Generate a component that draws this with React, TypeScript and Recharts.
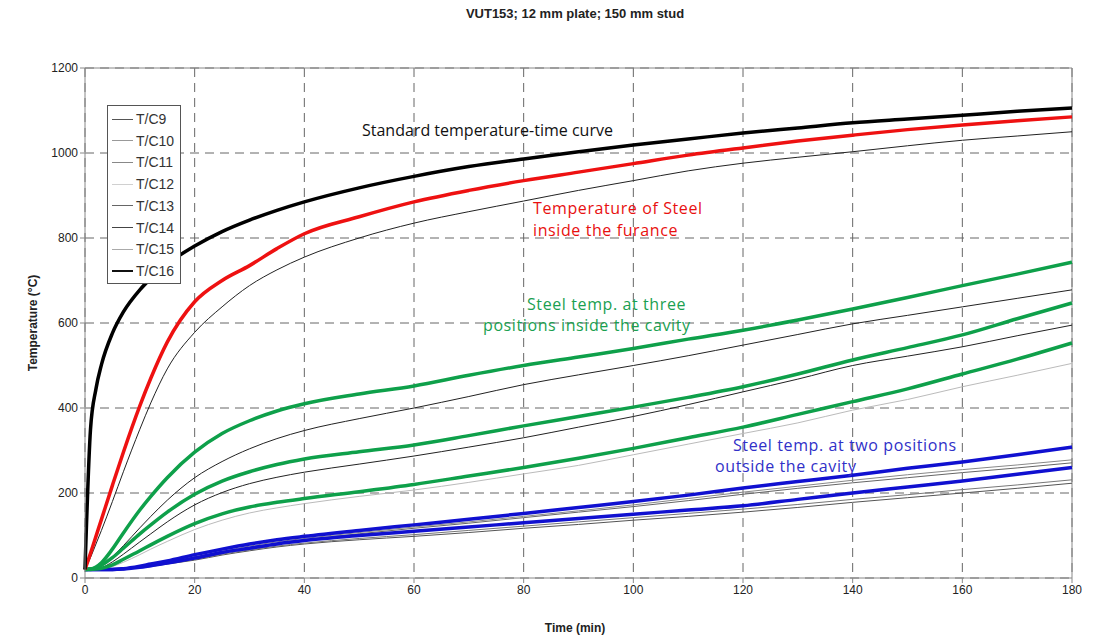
import React from "react";
import {
  CartesianGrid,
  Label,
  Line,
  LineChart,
  ReferenceLine,
  XAxis,
  YAxis,
} from "recharts";

// time (min)
const TIMES = [0, 1, 2, 3, 5, 7, 10, 12, 15, 20, 25, 30, 35, 40, 50, 60, 70, 80, 90, 100, 110, 120, 130, 140, 150, 160, 170, 180];

// temperatures (°C)
const STANDARD = [20, 349, 445, 502, 576, 626, 678, 705, 739, 781, 815, 842, 865, 885, 918, 945, 968, 986, 1003, 1019, 1033, 1047, 1059, 1071, 1080, 1089, 1098, 1106];
const FURNACE_STEEL = [20, 58, 98, 138, 218, 296, 405, 470, 555, 650, 700, 735, 775, 810, 850, 885, 912, 935, 955, 975, 995, 1012, 1028, 1042, 1055, 1066, 1076, 1085];
const THIN_FURNACE = [20, 48, 80, 112, 180, 250, 350, 412, 492, 578, 638, 688, 725, 755, 800, 835, 862, 887, 912, 935, 958, 976, 990, 1003, 1017, 1030, 1040, 1050];
const CAVITY_1 = [20, 21, 26, 36, 68, 106, 160, 192, 236, 296, 340, 370, 393, 410, 433, 452, 477, 500, 520, 540, 562, 583, 607, 633, 660, 688, 715, 743];
const THIN_CAVITY_1 = [20, 20, 23, 29, 50, 76, 118, 145, 183, 236, 274, 304, 328, 347, 375, 400, 427, 455, 478, 500, 523, 548, 573, 598, 618, 638, 658, 678];
const CAVITY_2 = [20, 21, 24, 30, 48, 70, 104, 125, 155, 197, 228, 250, 267, 280, 297, 313, 335, 358, 380, 402, 425, 450, 480, 513, 542, 572, 610, 647];
const THIN_CAVITY_2 = [20, 20, 21, 24, 38, 56, 85, 104, 132, 172, 201, 222, 237, 249, 268, 287, 308, 330, 355, 380, 408, 438, 468, 500, 522, 544, 570, 595];
const CAVITY_3 = [20, 20, 21, 23, 31, 44, 64, 78, 98, 128, 151, 167, 178, 187, 203, 220, 240, 260, 282, 305, 330, 355, 385, 415, 445, 480, 515, 553];
const LIGHT_CAVITY_3 = [20, 20, 20, 21, 27, 37, 55, 68, 86, 114, 136, 153, 165, 175, 192, 207, 225, 245, 265, 290, 315, 340, 365, 395, 420, 450, 477, 505];
const OUTSIDE_1 = [20, 20, 20, 20, 20, 22, 28, 33, 40, 55, 68, 80, 90, 98, 112, 125, 138, 152, 166, 180, 195, 212, 227, 242, 258, 273, 290, 308];
const OUTSIDE_2 = [20, 20, 20, 20, 20, 21, 25, 29, 35, 47, 60, 70, 80, 88, 100, 110, 120, 130, 140, 150, 160, 170, 185, 200, 214, 228, 244, 260];
const GRAY_1 = [20, 20, 20, 20, 21, 23, 27, 31, 38, 50, 63, 75, 85, 93, 107, 120, 132, 145, 158, 172, 187, 202, 216, 230, 243, 255, 266, 278];
const GRAY_2 = [20, 20, 20, 20, 21, 23, 26, 30, 37, 48, 61, 72, 82, 90, 104, 117, 129, 142, 155, 168, 182, 197, 211, 224, 236, 248, 259, 271];
const GRAY_3 = [20, 20, 20, 20, 20, 22, 25, 28, 34, 44, 56, 66, 75, 82, 93, 102, 112, 122, 132, 142, 152, 162, 173, 185, 196, 208, 219, 231];
const GRAY_4 = [20, 20, 20, 20, 20, 22, 24, 27, 33, 42, 54, 64, 73, 80, 90, 98, 107, 117, 126, 136, 145, 155, 166, 178, 189, 200, 211, 223];

const X_TICKS = [0, 20, 40, 60, 80, 100, 120, 140, 160, 180];
const Y_TICKS = [0, 200, 400, 600, 800, 1000, 1200];

const LEGEND_LABELS = ["T/C9", "T/C10", "T/C11", "T/C12", "T/C13", "T/C14", "T/C15", "T/C16"];
const LEGEND_COLORS = ["#555", "#999", "#888", "#d0d0d0", "#666", "#444", "#aaa", "#111"];

// draw order: thin lines first, thick coloured ones on top
const SERIES = [
  { key: "g4", values: GRAY_4, color: "#555", width: 1 },
  { key: "g3", values: GRAY_3, color: "#777", width: 1 },
  { key: "g2", values: GRAY_2, color: "#666", width: 1 },
  { key: "g1", values: GRAY_1, color: "#888", width: 1 },
  { key: "light3", values: LIGHT_CAVITY_3, color: "#bbb", width: 1 },
  { key: "thin2", values: THIN_CAVITY_2, color: "#222", width: 1 },
  { key: "thin1", values: THIN_CAVITY_1, color: "#222", width: 1 },
  { key: "thinF", values: THIN_FURNACE, color: "#222", width: 1 },
  { key: "out2", values: OUTSIDE_2, color: "#1010d0", width: 3.5 },
  { key: "out1", values: OUTSIDE_1, color: "#1010d0", width: 3.5 },
  { key: "cav3", values: CAVITY_3, color: "#0ea04a", width: 3.5 },
  { key: "cav2", values: CAVITY_2, color: "#0ea04a", width: 3.5 },
  { key: "cav1", values: CAVITY_1, color: "#0ea04a", width: 3.5 },
  { key: "furnace", values: FURNACE_STEEL, color: "#ee1111", width: 3.5 },
  { key: "standard", values: STANDARD, color: "#000", width: 3.5 },
];

const data = TIMES.map((t, i) => {
  const row: Record<string, number> = { time: t };
  SERIES.forEach((s) => {
    row[s.key] = s.values[i];
  });
  return row;
});

const FONT = "'Liberation Sans', Arial, sans-serif";
const NOTE_FONT = "'Open Sans', 'DejaVu Sans', sans-serif";

// y = vertical centre of the text line
const notes = [
  { text: "Standard temperature-time curve", left: 362, y: 130, color: "#111", spacing: 0 },
  { text: "Temperature of Steel", left: 533, y: 208, color: "#e81010", spacing: 0.6 },
  { text: "inside the furance", left: 533, y: 230, color: "#e81010", spacing: 0.6 },
  { text: "Steel temp. at three", left: 527, y: 304, color: "#1aa050", spacing: 0.6 },
  { text: "positions inside the cavity", left: 483, y: 325, color: "#1aa050", spacing: 0.6 },
  { text: "Steel temp. at two positions", left: 733, y: 445, color: "#3030c8", spacing: 0.6 },
  { text: "outside the cavity", left: 715, y: 466, color: "#3030c8", spacing: 0.6 },
];

export default function App() {
  return (
    <div style={{ position: "relative", width: 1102, height: 638, background: "#fff" }}>
      <style>{`body{margin:0}`}</style>
      <div
        style={{
          position: "absolute",
          top: 6,
          left: 0,
          width: 1150,
          textAlign: "center",
          fontFamily: FONT,
          fontWeight: "bold",
          fontSize: 13,
          color: "#222",
        }}
      >
        VUT153; 12 mm plate; 150 mm stud
      </div>
      <LineChart
        width={1102}
        height={638}
        data={data}
        margin={{ top: 68, right: 30, bottom: 0, left: 0 }}
      >
        <CartesianGrid stroke="#666" strokeDasharray="9 6" />
        <XAxis
          dataKey="time"
          type="number"
          domain={[0, 180]}
          ticks={X_TICKS}
          height={60}
          stroke="#888"
          tick={{ fill: "#222", fontSize: 12, fontFamily: FONT }}
          tickSize={5}
        >
          <Label
            content={() => (
              <text x={575} y={632} textAnchor="middle" fontFamily={FONT} fontWeight="bold" fontSize={12} fill="#222">
                Time (min)
              </text>
            )}
          />
        </XAxis>
        <YAxis
          type="number"
          domain={[0, 1200]}
          ticks={Y_TICKS}
          width={85}
          stroke="#888"
          tick={{ fill: "#222", fontSize: 12, fontFamily: FONT }}
          tickSize={5}
        >
          <Label
            content={() => (
              <text
                x={37}
                y={323}
                transform="rotate(-90 37 323)"
                textAnchor="middle"
                fontFamily={FONT}
                fontWeight="bold"
                fontSize={12}
                fill="#222"
              >
                Temperature (°C)
              </text>
            )}
          />
        </YAxis>
        <ReferenceLine y={1200} stroke="#888" />
        <ReferenceLine x={180} stroke="#888" />
        {SERIES.map((s) => (
          <Line
            key={s.key}
            dataKey={s.key}
            type="monotone"
            stroke={s.color}
            strokeWidth={s.width}
            dot={false}
            isAnimationActive={false}
          />
        ))}
      </LineChart>
      <div
        style={{
          position: "absolute",
          left: 107,
          top: 105,
          width: 72,
          height: 177,
          border: "1px solid #555",
          background: "#fff",
          fontFamily: FONT,
          fontSize: 14,
          color: "#333",
        }}
      >
        {LEGEND_LABELS.map((name, i) => (
          <div
            key={name}
            style={{
              position: "absolute",
              left: 4,
              top: 13 + i * 21.7 - 8,
              height: 16,
              display: "flex",
              alignItems: "center",
              whiteSpace: "nowrap",
            }}
          >
            <span
              style={{
                display: "inline-block",
                width: 21,
                height: 0,
                borderTop: `${i === 7 ? 2 : 1.5}px solid ${LEGEND_COLORS[i]}`,
                marginRight: 3,
              }}
            />
            {name}
          </div>
        ))}
      </div>
      {notes.map((n) => (
        <div
          key={n.text}
          style={{
            position: "absolute",
            left: n.left,
            top: n.y - 8,
            lineHeight: "16px",
            color: n.color,
            fontFamily: NOTE_FONT,
            fontSize: 16,
            letterSpacing: n.spacing,
            whiteSpace: "nowrap",
          }}
        >
          {n.text}
        </div>
      ))}
    </div>
  );
}
